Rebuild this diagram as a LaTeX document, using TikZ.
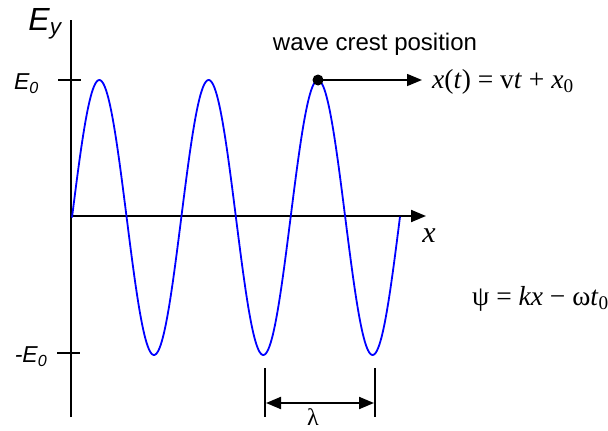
\documentclass[tikz,border=0pt]{standalone}
\usepackage{fontspec}
\setmainfont{Liberation Serif}
\setsansfont{Liberation Sans}
\usetikzlibrary{arrows.meta}
\begin{document}
\begin{tikzpicture}[x=1pt,y=-1pt,
  axis/.style={line width=2pt,black},
  tip/.style={-{Triangle[length=15pt,width=12pt]}},
  dtip/.style={{Triangle[length=15pt,width=12pt]}-{Triangle[length=15pt,width=12pt]}},
  lab/.style={font=\sffamily\itshape\fontsize{23}{23}\selectfont, inner sep=0pt},
  eq/.style={font=\fontsize{27.5}{27.5}\selectfont, inner sep=0pt}]
\useasboundingbox (0,0) rectangle (608,431);
% axes
\coordinate (ytop) at (71,20);
\coordinate (ybot) at (71,417);
\coordinate (xl) at (71,216);
\coordinate (xr) at (426,216);
\draw[axis] (ybot) -- (ytop);
\draw[axis,tip] (xl) -- (xr);
% ticks
\coordinate (t1a) at (58,80); \coordinate (t1b) at (81,80);
\coordinate (t2a) at (57,353); \coordinate (t2b) at (80,353);
\draw[axis] (t1a) -- (t1b);
\draw[axis] (t2a) -- (t2b);
% wave
\draw[blue, line width=1.8pt, line join=round]
  plot[domain=72:400, samples=300, smooth] (\x, {217.5 - 137.5*sin(3.293687*(\x-72))});
% labels
\node[font=\sffamily\itshape\fontsize{32}{32}\selectfont, inner sep=0pt] (ey) at (45,24) {E\textsubscript{y}};
\node[lab] (e0) at (26.5,84) {E\textsubscript{0}};
\node[lab] (me0) at (31,357) {-E\textsubscript{0}};
\node[font=\itshape\fontsize{30}{30}\selectfont, inner sep=0pt] (xlab) at (429,236) {x};
% crest
\node[font=\sffamily\fontsize{24}{24}\selectfont, inner sep=0pt] (wcp) at (375,44) {wave crest position};
\node[circle, fill=black, inner sep=0pt, minimum size=11pt] (crest) at (318,80) {};
\node[eq, anchor=west] (xt) at (432,82) {\textit{x}(\textit{t}) = v\textit{t} + \textit{x}\textsubscript{0}};
\draw[line width=1.5pt, tip] (crest.center) -- (422,80);
% psi
\node[eq, anchor=west] (psi) at (472,299) {ψ = \textit{kx} − ω\textit{t}\textsubscript{0}};
% lambda
\coordinate (l1a) at (265,368); \coordinate (l1b) at (265,417);
\coordinate (l2a) at (375,368); \coordinate (l2b) at (375,417);
\draw[line width=2pt] (l1a) -- (l1b);
\draw[line width=2pt] (l2a) -- (l2b);
\coordinate (la) at (266,403); \coordinate (lb) at (374,403);
\draw[line width=2pt, dtip] (la) -- (lb);
\node[font=\fontsize{24}{24}\selectfont, inner sep=0pt] (lam) at (313,417) {λ};
\end{tikzpicture}
\end{document}
